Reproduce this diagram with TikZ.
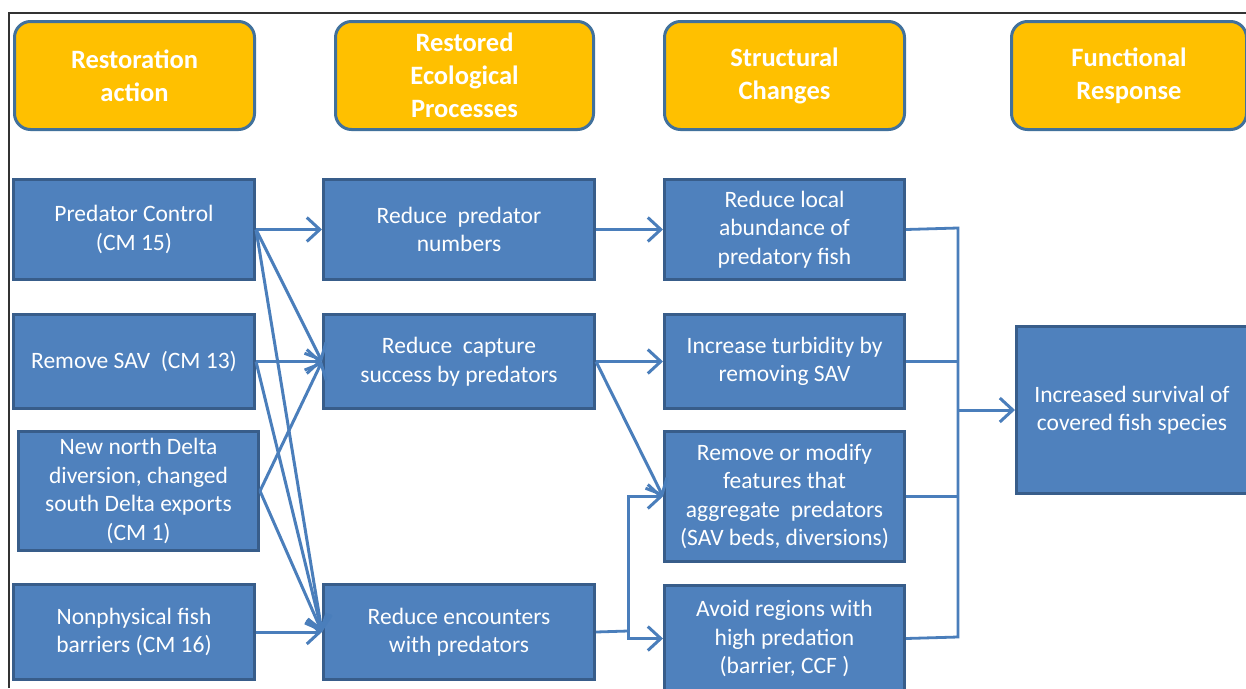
\documentclass[tikz,border=0pt]{standalone}
\usepackage{fontspec}
\setmainfont{Carlito}
\usetikzlibrary{arrows.meta}
\definecolor{hdr}{HTML}{FFC000}
\definecolor{hdrb}{HTML}{41719C}
\definecolor{bx}{HTML}{4F81BD}
\definecolor{bxb}{HTML}{385D8A}
\definecolor{ln}{HTML}{4A7EBB}
\tikzset{
  hbox/.style={draw=hdrb, line width=3pt, fill=hdr, rounded corners=16pt, text=white,
    font=\fontsize{26.5}{33}\selectfont\bfseries, align=center, anchor=north west, inner sep=0pt},
  bbox/.style={draw=bxb, line width=3pt, fill=bx, text=white,
    font=\fontsize{23.5}{28.5}\selectfont, align=center, anchor=north west, inner sep=0pt},
  conn/.style={draw=ln, line width=3pt, -{Straight Barb[length=13pt,width=24pt]}},
  brk/.style={draw=ln, line width=2.8pt},
  frame/.style={draw=black!80, line width=1.5pt}
}
\begin{document}
\begin{tikzpicture}[x=1pt,y=-1pt]
\useasboundingbox (0,0) rectangle (1246,688);
\fill[white] (0,0) rectangle (1246,688);
\draw[frame] (9,688) -- (9,13) -- (1246,13);

% headers
\node[hbox, minimum width=240pt, minimum height=108pt] (h1) at (13,20) {Restoration\\action};
\node[hbox, minimum width=258pt, minimum height=108pt] (h2) at (334,20) {Restored\\Ecological\\Processes};
\node[hbox, minimum width=240pt, minimum height=108pt] (h3) at (663,20) {Structural\\Changes};
\node[hbox, minimum width=235pt, minimum height=108pt] (h4) at (1010,20) {Functional\\Response};

% column 1
\node[bbox, minimum width=241pt, minimum height=100pt] (pc) at (12,178) {Predator Control\\(CM 15)};
\node[bbox, minimum width=241pt, minimum height=94pt] (rs) at (12,313) {Remove SAV\ \ (CM 13)};
\node[bbox, minimum width=240pt, minimum height=119pt] (nd) at (17,430) {New north Delta\\diversion, changed\\south Delta exports\\(CM 1)};
\node[bbox, minimum width=241pt, minimum height=95pt] (nb) at (12,583) {Nonphysical fish\\barriers (CM 16)};

% column 2
\node[bbox, minimum width=271pt, minimum height=100pt] (rpn) at (322,178) {Reduce\ \ predator\\numbers};
\node[bbox, minimum width=271pt, minimum height=94pt] (rcs) at (322,313) {Reduce\ \ capture\\success by predators};
\node[bbox, minimum width=271pt, minimum height=95pt] (rep) at (322,583) {Reduce encounters\\with predators};

% column 3
\node[bbox, minimum width=240pt, minimum height=100pt] (rla) at (663,178) {Reduce local\\abundance of\\predatory fish};
\node[bbox, minimum width=240pt, minimum height=94pt] (its) at (663,313) {Increase turbidity by\\removing SAV};
\node[bbox, minimum width=240pt, minimum height=130pt] (rmf) at (663,430) {Remove or modify\\features that\\aggregate\ \ predators\\(SAV beds, diversions)};
\node[bbox, minimum width=240pt, minimum height=106pt] (avr) at (663,584) {Avoid regions with\\high predation\\(barrier, CCF )};

% column 4
\node[bbox, minimum width=231pt, minimum height=167pt] (iss) at (1015,325) {Increased survival of\\covered fish species};

% connectors column 1 -> 2
\draw[conn] (pc.east) -- (rpn.west);
\draw[conn] (pc.east) -- (rcs.west);
\draw[conn] (pc.east) -- (rep.west);
\draw[conn] (rs.east) -- (rcs.west);
\draw[conn] (rs.east) -- (rep.west);
\draw[conn] (nd.east) -- (rcs.west);
\draw[conn] (nd.east) -- (rep.west);
\draw[conn] (nb.east) -- (rep.west);

% column 2 -> 3
\draw[conn] (rpn.east) -- (rla.west);
\draw[conn] (rcs.east) -- (its.west);
\draw[conn] (rcs.east) -- (rmf.west);
\coordinate (j) at (628,631);
\draw[brk] (rep.east) -- (j);
\draw[conn] (j) |- (rmf.west);
\draw[conn] (j) |- (avr.west);

% column 3 -> 4
\coordinate (bt) at (958,228);
\coordinate (bb) at (958,637);
\draw[brk] (rla.east) -- (bt) -- (bb) -- (avr.east);
\draw[brk] (its.east) -- (its.east -| bt);
\draw[brk] (rmf.east) -- (rmf.east -| bt);
\draw[conn] (bt |- iss.west) -- (iss.west);
\end{tikzpicture}
\end{document}
